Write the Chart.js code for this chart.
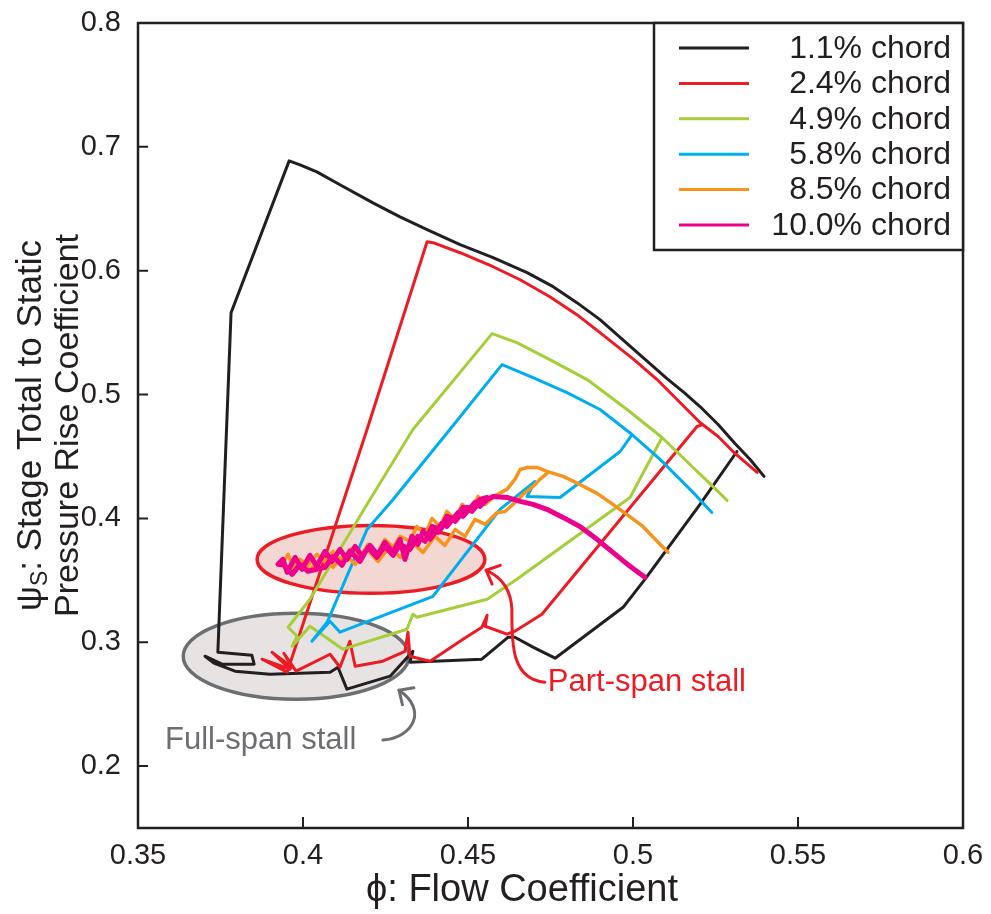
<!DOCTYPE html>
<html>
<head>
<meta charset="utf-8">
<title>Stage pressure rise vs flow coefficient</title>
<script src="https://cdn.jsdelivr.net/npm/chart.js@4.4.1/dist/chart.umd.min.js"></script>
<style>
  html, body { margin: 0; padding: 0; background: #fff; }
  #wrap { width: 991px; height: 914px; }
</style>
</head>
<body>
<div id="wrap"><canvas id="stall-chart" width="991" height="914"></canvas></div>
<script>
const seriesLabels = ['1.1% chord', '2.4% chord', '4.9% chord', '5.8% chord', '8.5% chord', '10.0% chord'];

const xTicks = [0.35, 0.4, 0.45, 0.5, 0.55, 0.6];
const xTickLabels = ['0.35', '0.4', '0.45', '0.5', '0.55', '0.6'];
const yTicks = [0.2, 0.3, 0.4, 0.5, 0.6, 0.7, 0.8];
const yTickLabels = ['0.2', '0.3', '0.4', '0.5', '0.6', '0.7', '0.8'];

// 1.1% chord
const chord11Phi = [0.5397, 0.5355, 0.5309, 0.5258, 0.5203, 0.5155, 0.5103, 0.5003, 0.4900, 0.4830, 0.4758, 0.4679, 0.4576, 0.4476, 0.4376, 0.4294, 0.4212, 0.4112, 0.4042, 0.3991, 0.3958, 0.3782, 0.3742, 0.3845, 0.3852, 0.3755, 0.3703, 0.3730, 0.3794, 0.3900, 0.4082, 0.4106, 0.4133, 0.4264, 0.4333, 0.4324, 0.4542, 0.4621, 0.4642, 0.4697, 0.4764, 0.4970, 0.5036, 0.5203, 0.5315];
const chord11Psi = [0.4339, 0.4476, 0.4605, 0.4758, 0.4903, 0.5016, 0.5129, 0.5363, 0.5605, 0.5742, 0.5871, 0.5984, 0.6105, 0.6210, 0.6331, 0.6435, 0.6548, 0.6694, 0.6798, 0.6855, 0.6887, 0.5661, 0.2919, 0.2895, 0.2823, 0.2823, 0.2887, 0.2831, 0.2766, 0.2742, 0.2758, 0.2798, 0.2621, 0.2726, 0.2927, 0.2839, 0.2863, 0.3040, 0.3040, 0.2960, 0.2871, 0.3282, 0.3508, 0.4113, 0.4540];

// 2.4% chord
const chord24Phi = [0.5376, 0.5303, 0.5258, 0.5203, 0.5073, 0.5003, 0.4900, 0.4830, 0.4748, 0.4658, 0.4576, 0.4476, 0.4394, 0.4376, 0.4194, 0.3952, 0.3876, 0.3961, 0.3906, 0.3967, 0.3942, 0.3979, 0.4082, 0.4112, 0.4142, 0.4158, 0.4242, 0.4309, 0.4318, 0.4324, 0.4385, 0.4485, 0.4542, 0.4558, 0.4552, 0.4618, 0.4642, 0.4724, 0.5194, 0.5212];
const chord24Psi = [0.4371, 0.4540, 0.4661, 0.4774, 0.5121, 0.5282, 0.5500, 0.5645, 0.5790, 0.5927, 0.6032, 0.6145, 0.6226, 0.6234, 0.4718, 0.2758, 0.2863, 0.2782, 0.2919, 0.2798, 0.2911, 0.2766, 0.2903, 0.2798, 0.3008, 0.2806, 0.2847, 0.2927, 0.3081, 0.2887, 0.2847, 0.3024, 0.3121, 0.3218, 0.3129, 0.3065, 0.3089, 0.3226, 0.4742, 0.4758];

// 4.9% chord
const chord49Phi = [0.5285, 0.5242, 0.5182, 0.5088, 0.4982, 0.4861, 0.4748, 0.4648, 0.4573, 0.4333, 0.4203, 0.4021, 0.3955, 0.3982, 0.3967, 0.4021, 0.4121, 0.4315, 0.4333, 0.4345, 0.4558, 0.4648, 0.4991, 0.5088];
const chord49Psi = [0.4145, 0.4258, 0.4411, 0.4653, 0.4879, 0.5121, 0.5282, 0.5419, 0.5492, 0.4718, 0.4153, 0.3347, 0.3121, 0.3048, 0.2968, 0.3129, 0.2944, 0.3105, 0.3226, 0.3202, 0.3347, 0.3508, 0.4169, 0.4653];

// 5.8% chord
const chord58Phi = [0.5239, 0.5182, 0.5082, 0.4997, 0.4900, 0.4800, 0.4697, 0.4603, 0.4445, 0.4273, 0.4194, 0.4073, 0.4027, 0.4082, 0.4112, 0.4394, 0.4597, 0.4703, 0.4679, 0.4779, 0.4961, 0.4997];
const chord58Psi = [0.4048, 0.4210, 0.4476, 0.4677, 0.4879, 0.5016, 0.5137, 0.5242, 0.4718, 0.4153, 0.3911, 0.3161, 0.3008, 0.3169, 0.3081, 0.3371, 0.4073, 0.4298, 0.4177, 0.4169, 0.4540, 0.4677];

// 8.5% chord
const chord85Phi = [0.5106, 0.5067, 0.5030, 0.4985, 0.4939, 0.4891, 0.4839, 0.4788, 0.4739, 0.4709, 0.4679, 0.4658, 0.4642, 0.4618, 0.4582, 0.4552, 0.4530, 0.4506, 0.4482, 0.4461, 0.4436, 0.4415, 0.4391, 0.4370, 0.4345, 0.4324, 0.4294, 0.4273, 0.4248, 0.4224, 0.4197, 0.4173, 0.4142, 0.4118, 0.4091, 0.4067, 0.4042, 0.4015, 0.3991, 0.3970, 0.3955, 0.3936, 0.3961, 0.3991, 0.4021, 0.4058, 0.4091, 0.4127, 0.4158, 0.4194, 0.4227, 0.4264, 0.4294, 0.4330, 0.4364, 0.4400, 0.4430, 0.4461, 0.4491, 0.4521, 0.4552, 0.4588, 0.4612, 0.4636, 0.4667, 0.4697, 0.4718, 0.4739];
const chord85Psi = [0.3726, 0.3831, 0.3935, 0.4024, 0.4113, 0.4202, 0.4274, 0.4339, 0.4379, 0.4411, 0.4411, 0.4395, 0.4315, 0.4234, 0.4185, 0.4113, 0.4177, 0.4056, 0.4113, 0.3992, 0.4056, 0.3935, 0.4000, 0.3871, 0.3935, 0.3815, 0.3855, 0.3766, 0.3831, 0.3710, 0.3790, 0.3685, 0.3750, 0.3653, 0.3734, 0.3645, 0.3710, 0.3621, 0.3669, 0.3605, 0.3710, 0.3621, 0.3573, 0.3653, 0.3589, 0.3685, 0.3605, 0.3710, 0.3629, 0.3750, 0.3653, 0.3774, 0.3685, 0.3806, 0.3726, 0.3855, 0.3782, 0.3911, 0.3855, 0.3992, 0.3952, 0.4048, 0.4056, 0.4113, 0.4194, 0.4258, 0.4315, 0.4363];

// 10.0% chord
const chord100Phi = [0.5036, 0.4991, 0.4939, 0.4891, 0.4839, 0.4788, 0.4739, 0.4697, 0.4658, 0.4618, 0.4576,
  0.4558, 0.4536, 0.4545, 0.4512, 0.4521, 0.4485, 0.4497, 0.4461, 0.4470, 0.4436, 0.4445, 0.4409, 0.4421, 0.4385, 0.4364, 0.4348, 0.4330, 0.4309, 0.4294, 0.4273,
  0.4248, 0.4227, 0.4203, 0.4179, 0.4158, 0.4133, 0.4112, 0.4088, 0.4067, 0.4042, 0.4021, 0.3997, 0.3976, 0.3952, 0.3939, 0.3924, 0.3945, 0.3967, 0.3991, 0.4015,
  0.4067, 0.4091, 0.4118, 0.4142, 0.4173, 0.4197, 0.4224, 0.4248, 0.4273, 0.4294, 0.4324, 0.4348, 0.4370, 0.4391, 0.4415, 0.4436, 0.4461, 0.4485, 0.4506, 0.4536, 0.4558];
const chord100Psi = [0.3524, 0.3613, 0.3726, 0.3831, 0.3935, 0.4008, 0.4073, 0.4113, 0.4137, 0.4169, 0.4177,
  0.4153, 0.4097, 0.4161, 0.4056, 0.4129, 0.4016, 0.4089, 0.3976, 0.4048, 0.3935, 0.4008, 0.3887, 0.3960, 0.3831, 0.3895, 0.3790, 0.3855, 0.3669, 0.3831, 0.3726,
  0.3806, 0.3702, 0.3782, 0.3694, 0.3774, 0.3669, 0.3750, 0.3653, 0.3734, 0.3613, 0.3702, 0.3589, 0.3685, 0.3565, 0.3669, 0.3629, 0.3621, 0.3548, 0.3629, 0.3573,
  0.3605, 0.3694, 0.3621, 0.3734, 0.3653, 0.3766, 0.3685, 0.3774, 0.3702, 0.3790, 0.3750, 0.3855, 0.3815, 0.3935, 0.3911, 0.4016, 0.3992, 0.4089, 0.4073, 0.4153, 0.4169];

// stall regions (centre and half-axes, in phi / psi units)
const stallZonePhi = [0.3979, 0.4206];
const stallZonePsi = [0.2887, 0.3669];
const stallZoneRPhi = [0.0342, 0.0345];
const stallZoneRPsi = [0.0347, 0.0274];

const stallLabelText = ['Full-span stall', 'Part-span stall'];
const stallLabelPhi = [0.3582, 0.4742];
const stallLabelPsi = [0.2137, 0.2605];

// arrow curves: start point, then cubic control pairs and end points
const fullSpanArrow = [[0.4242, 0.2210], [0.4339, 0.2234], [0.4376, 0.2460], [0.4291, 0.2613]];
const partSpanArrow = [[0.4733, 0.2677], [0.4627, 0.2702], [0.4633, 0.3024], [0.4633, 0.3266], [0.4630, 0.3444], [0.4597, 0.3532], [0.4555, 0.3581]];

const INK = '#231f20';
const FONT = "'Liberation Sans', Arial, Helvetica, sans-serif";
const seriesColors = ['#231f20', '#ed1c24', '#a6ce39', '#00aeef', '#f7941d', '#ec008c'];
const seriesWidths = [3, 3, 3, 3, 3.5, 5];
const zoneFills = ['#e6e3e2', '#f3d7d2'];
const zoneStrokes = ['#6d6e71', '#ed1c24'];

Chart.defaults.font.family = FONT;
Chart.defaults.color = INK;

function toPoints(phi, psi) {
  return phi.map((v, i) => ({ x: v, y: psi[i] }));
}

const seriesData = [
  toPoints(chord11Phi, chord11Psi),
  toPoints(chord24Phi, chord24Psi),
  toPoints(chord49Phi, chord49Psi),
  toPoints(chord58Phi, chord58Psi),
  toPoints(chord85Phi, chord85Psi),
  toPoints(chord100Phi, chord100Psi),
];

function drawStallZones(chart) {
  const { ctx, scales: { x, y } } = chart;
  stallZonePhi.forEach((phi, i) => {
    const cx = x.getPixelForValue(phi);
    const cy = y.getPixelForValue(stallZonePsi[i]);
    const rx = Math.abs(x.getPixelForValue(phi + stallZoneRPhi[i]) - cx);
    const ry = Math.abs(y.getPixelForValue(stallZonePsi[i] + stallZoneRPsi[i]) - cy);
    ctx.save();
    ctx.beginPath();
    ctx.ellipse(cx, cy, rx, ry, 0, 0, Math.PI * 2);
    ctx.fillStyle = zoneFills[i];
    ctx.fill();
    ctx.lineWidth = 3.5;
    ctx.strokeStyle = zoneStrokes[i];
    ctx.stroke();
    ctx.restore();
  });
}

function drawArrow(chart, pts, color) {
  const { ctx, scales: { x, y } } = chart;
  const p = pts.map(([a, b]) => [x.getPixelForValue(a), y.getPixelForValue(b)]);
  ctx.save();
  ctx.strokeStyle = color;
  ctx.lineWidth = 3;
  ctx.lineCap = 'round';
  ctx.beginPath();
  ctx.moveTo(p[0][0], p[0][1]);
  for (let i = 1; i + 2 < p.length; i += 3) {
    ctx.bezierCurveTo(p[i][0], p[i][1], p[i + 1][0], p[i + 1][1], p[i + 2][0], p[i + 2][1]);
  }
  ctx.stroke();
  const end = p[p.length - 1];
  const prev = p[p.length - 2];
  const ang = Math.atan2(end[1] - prev[1], end[0] - prev[0]);
  ctx.beginPath();
  [-0.75, 0.75].forEach((d) => {
    ctx.moveTo(end[0], end[1]);
    ctx.lineTo(end[0] - 15 * Math.cos(ang + d), end[1] - 15 * Math.sin(ang + d));
  });
  ctx.stroke();
  ctx.restore();
}

function drawStallLabels(chart) {
  const { ctx, scales: { x, y } } = chart;
  ctx.save();
  ctx.font = `31px ${FONT}`;
  ctx.textAlign = 'left';
  ctx.textBaseline = 'alphabetic';
  stallLabelText.forEach((t, i) => {
    ctx.fillStyle = zoneStrokes[i];
    ctx.fillText(t, x.getPixelForValue(stallLabelPhi[i]), y.getPixelForValue(stallLabelPsi[i]));
  });
  ctx.restore();
}

function drawFrameAndTicks(chart) {
  const { ctx, chartArea: a, scales: { x, y } } = chart;
  ctx.save();
  ctx.strokeStyle = INK;
  ctx.lineWidth = 2;
  ctx.beginPath();
  xTicks.forEach((v) => {
    const px = x.getPixelForValue(v);
    ctx.moveTo(px, a.bottom);
    ctx.lineTo(px, a.bottom - 11);
  });
  yTicks.forEach((v) => {
    const py = y.getPixelForValue(v);
    ctx.moveTo(a.left, py);
    ctx.lineTo(a.left + 10, py);
  });
  ctx.stroke();
  ctx.lineWidth = 2.5;
  ctx.strokeRect(a.left, a.top, a.right - a.left, a.bottom - a.top);
  ctx.restore();
}

function drawLegend(chart) {
  const { ctx, chartArea: a } = chart;
  const boxW = 309;
  const boxH = 227;
  const left = a.right - boxW;
  ctx.save();
  ctx.fillStyle = '#fff';
  ctx.fillRect(left, a.top, boxW, boxH);
  ctx.lineWidth = 2.5;
  ctx.strokeStyle = INK;
  ctx.strokeRect(left, a.top, boxW, boxH);
  ctx.font = `32px ${FONT}`;
  ctx.textAlign = 'right';
  ctx.textBaseline = 'middle';
  chart.data.datasets.forEach((ds, i) => {
    const rowY = a.top + 25 + i * 35.4;
    ctx.strokeStyle = ds.borderColor;
    ctx.lineWidth = 3;
    ctx.beginPath();
    ctx.moveTo(left + 25, rowY);
    ctx.lineTo(left + 95, rowY);
    ctx.stroke();
    ctx.fillStyle = INK;
    ctx.fillText(ds.label, a.right - 12, rowY + 1);
  });
  ctx.restore();
}

function drawAxisTitles(chart) {
  const { ctx, chartArea: a } = chart;
  ctx.save();
  ctx.fillStyle = INK;
  ctx.textBaseline = 'alphabetic';
  ctx.font = `38px ${FONT}`;
  ctx.textAlign = 'center';
  ctx.fillText('\u03d5: Flow Coefficient', a.left + 384, a.bottom + 73);

  // rotated y title, first line carries a subscript
  const midY = (a.top + a.bottom) / 2;
  ctx.translate(0, midY);
  ctx.rotate(-Math.PI / 2);
  ctx.font = `34px ${FONT}`;
  ctx.fillText('Pressure Rise Coefficient', 0, 78);

  const big = `35px ${FONT}`;
  const small = `23px ${FONT}`;
  ctx.textAlign = 'left';
  ctx.font = big;
  const wPsi = ctx.measureText('\u03c8').width;
  const wRest = ctx.measureText(': Stage Total to Static').width;
  ctx.font = small;
  const wSub = ctx.measureText('S').width;
  let cx = -(wPsi + wSub + wRest) / 2;
  ctx.font = big;
  ctx.fillText('\u03c8', cx, 41);
  cx += wPsi;
  ctx.font = small;
  ctx.fillText('S', cx, 47);
  cx += wSub;
  ctx.font = big;
  ctx.fillText(': Stage Total to Static', cx, 41);
  ctx.restore();
}

const overlayPlugin = {
  id: 'stallOverlay',
  beforeDatasetsDraw(chart) {
    drawStallZones(chart);
  },
  afterDatasetsDraw(chart) {
    drawArrow(chart, fullSpanArrow, zoneStrokes[0]);
    drawArrow(chart, partSpanArrow, zoneStrokes[1]);
    drawStallLabels(chart);
    drawFrameAndTicks(chart);
    drawLegend(chart);
    drawAxisTitles(chart);
  },
};

function noOverflow(scale) {
  scale.paddingLeft = 0;
  scale.paddingRight = 0;
  scale.paddingTop = 0;
  scale.paddingBottom = 0;
}

const stallChart = new Chart(document.getElementById('stall-chart'), {
  type: 'scatter',
  data: {
    datasets: seriesLabels.map((label, i) => ({
      label,
      data: seriesData[i],
      showLine: true,
      borderColor: seriesColors[i],
      backgroundColor: seriesColors[i],
      borderWidth: seriesWidths[i],
      pointRadius: 0,
      pointHoverRadius: 0,
      tension: 0,
      borderJoinStyle: 'round',
      borderCapStyle: 'round',
      order: seriesLabels.length - i,
    })),
  },
  plugins: [overlayPlugin],
  options: {
    responsive: false,
    animation: false,
    devicePixelRatio: 1,
    layout: { padding: { top: 23, right: 28, left: 0, bottom: 0 } },
    plugins: {
      legend: { display: false },
      tooltip: { enabled: false },
    },
    scales: {
      x: {
        type: 'linear',
        min: 0.35,
        max: 0.6,
        grid: { display: false, drawTicks: false },
        border: { display: false },
        afterBuildTicks: (scale) => { scale.ticks = xTicks.map((v) => ({ value: v })); },
        afterFit: (scale) => { scale.height = 86; noOverflow(scale); },
        ticks: {
          padding: 11,
          color: INK,
          font: { size: 29 },
          maxRotation: 0,
          callback: (v) => xTickLabels[xTicks.findIndex((t) => Math.abs(t - v) < 1e-6)] ?? '',
        },
      },
      y: {
        type: 'linear',
        min: 0.15,
        max: 0.8,
        grid: { display: false, drawTicks: false },
        border: { display: false },
        afterBuildTicks: (scale) => { scale.ticks = yTicks.map((v) => ({ value: v })); },
        afterFit: (scale) => { scale.width = 138; noOverflow(scale); },
        ticks: {
          padding: 17,
          color: INK,
          font: { size: 29 },
          callback: (v) => yTickLabels[yTicks.findIndex((t) => Math.abs(t - v) < 1e-6)] ?? '',
        },
      },
    },
  },
});
</script>
</body>
</html>
